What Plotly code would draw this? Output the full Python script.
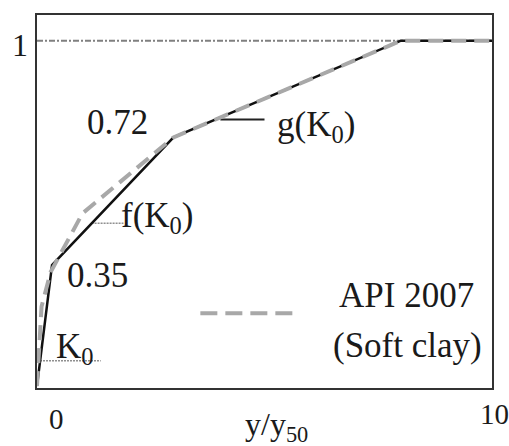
import plotly.graph_objects as go

# ---- data ----
model_x = [0, 0.33, 3.0, 8.0, 10.0]
model_y = [0, 0.35, 0.72, 1.0, 1.0]

api_x = [0, 0.1, 0.3, 1.0, 3.0, 8.0, 10.0]
api_y = [0, 0.23, 0.33, 0.5, 0.72, 1.0, 1.0]

unity_x = [0, 10]
unity_y = [1, 1]

k0_x = [0, 1.4]
k0_y = [0.073, 0.073]

f_x = [1.2, 1.9]
f_y = [0.471, 0.471]

g_x = [4.03, 5.0]
g_y = [0.772, 0.772]

legend_x = [3.59, 5.72]
legend_y = [0.211, 0.211]

x_tick_labels = ["0", "10"]
y_tick_labels = ["1"]

FONT = "Liberation Serif"
GRAY = "#a8a8a8"

fig = go.Figure()

fig.add_trace(go.Scatter(x=unity_x, y=unity_y, mode="lines",
                         line=dict(color="#808080", width=2, dash="6px,2px,2px,2px"),
                         hoverinfo="skip"))
fig.add_trace(go.Scatter(x=k0_x, y=k0_y, mode="lines",
                         line=dict(color="#909090", width=1.5, dash="2px,1px"),
                         hoverinfo="skip"))
fig.add_trace(go.Scatter(x=f_x, y=f_y, mode="lines",
                         line=dict(color="#909090", width=1.5, dash="2px,1px"),
                         hoverinfo="skip"))
fig.add_trace(go.Scatter(x=g_x, y=g_y, mode="lines",
                         line=dict(color="#222222", width=2),
                         hoverinfo="skip"))
fig.add_trace(go.Scatter(x=model_x, y=model_y, mode="lines",
                         line=dict(color="#111111", width=2.5),
                         hoverinfo="skip"))
fig.add_trace(go.Scatter(x=api_x, y=api_y, mode="lines",
                         line=dict(color=GRAY, width=4, dash="15px,8px"),
                         hoverinfo="skip"))
fig.add_trace(go.Scatter(x=legend_x, y=legend_y, mode="lines",
                         line=dict(color=GRAY, width=4, dash="17px,8px"),
                         hoverinfo="skip"))

def ann(text, x, y, size=35, ref="data"):
    xr, yr = ("x", "y") if ref == "data" else ("paper", "paper")
    fig.add_annotation(text=text, x=x, y=y, xref=xr, yref=yr, showarrow=False,
                       xanchor="center", yanchor="middle",
                       font=dict(family=FONT, size=size, color="#1a1a1a"))

ann("0.72", 1.76, 0.762)
ann("0.35", 1.33, 0.319)
ann("K<sub>0</sub>", 0.84, 0.11)
ann("f(K<sub>0</sub>)", 2.65, 0.487)
ann("g(K<sub>0</sub>)", 6.14, 0.752)
ann("API 2007", 8.12, 0.261)
ann("(Soft clay)", 8.14, 0.116)
ann(y_tick_labels[0], -0.037, 0.92, size=32, ref="paper")
ann(x_tick_labels[0], 0.042, -0.083, size=29, ref="paper")
ann(x_tick_labels[1], 1.0044, -0.07, size=29, ref="paper")
ann("y/y<sub>50</sub>", 0.527, -0.103, size=32, ref="paper")

fig.update_layout(
    width=509, height=446,
    margin=dict(l=37, r=17, t=15, b=58),
    paper_bgcolor="white", plot_bgcolor="white",
    showlegend=False,
    xaxis=dict(range=[0, 10], showgrid=False, zeroline=False, showticklabels=False,
               ticks="", showline=True, linecolor="#333333", linewidth=2, mirror=True),
    yaxis=dict(range=[-0.0058, 1.0744], showgrid=False, zeroline=False, showticklabels=False,
               ticks="", showline=True, linecolor="#333333", linewidth=2, mirror=True),
)

fig.write_html("out.html",
               config={"displayModeBar": False},
               post_script="document.body.style.margin='0';document.body.style.overflow='hidden';")
